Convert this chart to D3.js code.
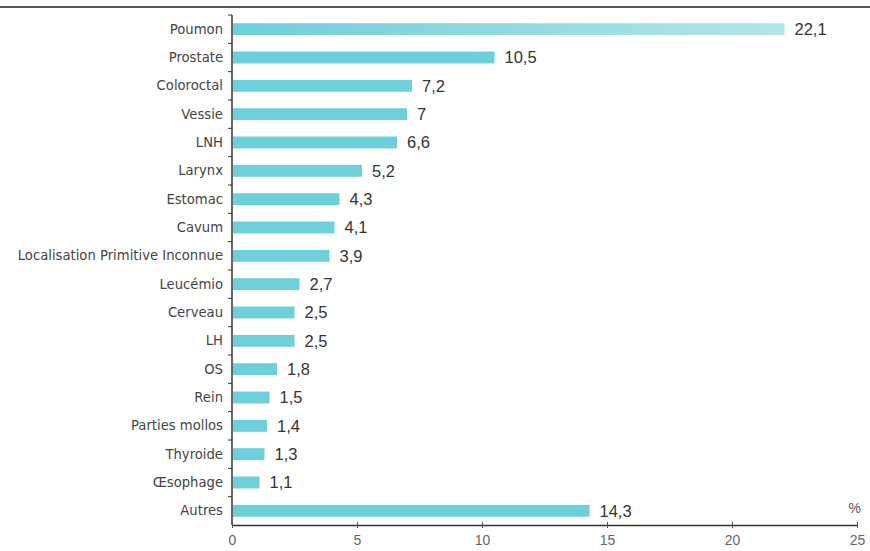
<!DOCTYPE html>
<html>
<head>
<meta charset="utf-8">
<script src="https://cdn.jsdelivr.net/npm/d3@7"></script>
<style>
  body { margin: 0; background: #fff; }
  svg { display: block; }
</style>
</head>
<body>
<svg id="chart" width="870" height="551"></svg>
<script>
const categories = ['Poumon', 'Prostate', 'Coloroctal', 'Vessie', 'LNH', 'Larynx', 'Estomac', 'Cavum',
  'Localisation Primitive Inconnue', 'Leucémio', 'Cerveau', 'LH', 'OS', 'Rein', 'Parties mollos',
  'Thyroide', 'Œsophage', 'Autres']
const values = [22.1, 10.5, 7.2, 7, 6.6, 5.2, 4.3, 4.1, 3.9, 2.7, 2.5, 2.5, 1.8, 1.5, 1.4, 1.3, 1.1, 14.3]
const valueLabels = ['22,1', '10,5', '7,2', '7', '6,6', '5,2', '4,3', '4,1', '3,9', '2,7', '2,5', '2,5',
  '1,8', '1,5', '1,4', '1,3', '1,1', '14,3']
const xTicks = [0, 5, 10, 15, 20, 25]

const data = categories.map((c, i) => ({cat: c, value: values[i], label: valueLabels[i]}))

const svg = d3.select('#chart')
const margin = {top: 15, right: 13, bottom: 26, left: 232}
const width = 870, height = 551
const innerWidth = width - margin.left - margin.right
const innerHeight = height - margin.top - margin.bottom

// top rule
svg.append('line')
  .attr('x1', 0).attr('x2', width)
  .attr('y1', 7).attr('y2', 7)
  .attr('stroke', '#555').attr('stroke-width', 2)

const defs = svg.append('defs')
const grad = defs.append('linearGradient').attr('id', 'fade')
grad.append('stop').attr('offset', '0%').attr('stop-color', '#6dcfd9')
grad.append('stop').attr('offset', '100%').attr('stop-color', '#b3e6e8')

const x = d3.scaleLinear().domain([0, 25]).range([0, innerWidth])
const y = d3.scaleBand().domain(categories).range([0, innerHeight]).paddingInner(0.58).paddingOuter(0.29)

const g = svg.append('g').attr('transform', `translate(${margin.left},${margin.top})`)

// bars
g.selectAll('rect.bar')
  .data(data)
  .join('rect')
  .attr('class', 'bar')
  .attr('x', 1)
  .attr('y', d => y(d.cat))
  .attr('width', d => x(d.value) - 1)
  .attr('height', y.bandwidth())
  .attr('fill', (d, i) => i === 0 ? 'url(#fade)' : '#6dcfd9')

// value labels
g.selectAll('text.val')
  .data(data)
  .join('text')
  .attr('class', 'val')
  .attr('x', d => x(d.value) + 10)
  .attr('y', d => y(d.cat) + y.bandwidth() / 2)
  .attr('dy', '0.36em')
  .attr('font-family', 'Liberation Sans, Arial, sans-serif')
  .attr('font-size', 16.5)
  .attr('fill', '#333')
  .text(d => d.label)

// category labels
g.selectAll('text.cat')
  .data(data)
  .join('text')
  .attr('class', 'cat')
  .attr('x', -9)
  .attr('y', d => y(d.cat) + y.bandwidth() / 2)
  .attr('dy', '0.35em')
  .attr('text-anchor', 'end')
  .attr('font-family', 'DejaVu Sans, sans-serif')
  .attr('font-size', 13.2)
  .attr('fill', '#444')
  .text(d => d.cat)

// y axis line + ticks at band boundaries
const step = innerHeight / categories.length
g.append('line')
  .attr('x1', 0).attr('x2', 0).attr('y1', 0).attr('y2', innerHeight)
  .attr('stroke', '#333').attr('stroke-width', 1.5)
g.selectAll('line.ytick')
  .data(d3.range(categories.length))
  .join('line')
  .attr('class', 'ytick')
  .attr('x1', -4).attr('x2', 0)
  .attr('y1', i => i * step).attr('y2', i => i * step)
  .attr('stroke', '#333')

// x axis
const xAxis = g.append('g')
  .attr('transform', `translate(0,${innerHeight})`)
  .call(d3.axisBottom(x).tickValues(xTicks).tickSize(3).tickSizeOuter(0).tickPadding(7))
xAxis.select('.domain').attr('stroke', '#333').attr('stroke-width', 1.5)
xAxis.selectAll('.tick line').attr('stroke', '#555').attr('y1', -3).attr('y2', 3)
xAxis.selectAll('.tick text')
  .attr('font-family', 'Liberation Sans, Arial, sans-serif')
  .attr('font-size', 14)
  .attr('fill', '#666')

g.append('text')
  .attr('x', innerWidth + 4)
  .attr('y', innerHeight - 12)
  .attr('text-anchor', 'end')
  .attr('font-family', 'Liberation Sans, Arial, sans-serif')
  .attr('font-size', 14)
  .attr('fill', '#555')
  .text('%')
</script>
</body>
</html>
